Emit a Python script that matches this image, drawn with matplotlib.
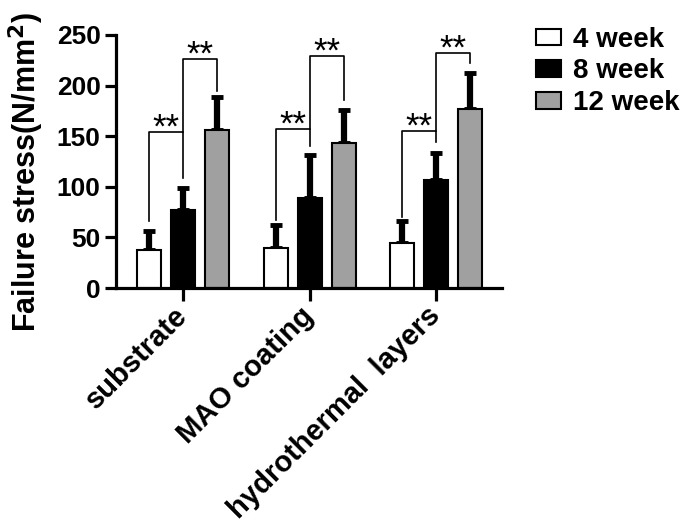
import numpy as np
import matplotlib.pyplot as plt

plt.rcParams['font.family'] = ['Liberation Sans', 'DejaVu Sans']

categories = ['substrate', 'MAO coating', 'hydrothermal  layers']
weeks = ['4 week', '8 week', '12 week']
means = [[38, 40, 44],      # 4 week
         [77, 89, 107],     # 8 week
         [156, 143, 177]]   # 12 week
errs = [[18, 22, 22],
        [22, 42, 26],
        [33, 33, 35]]
colors = ['white', 'black', '#a0a0a0']

# significance brackets: (group, left bar, right bar, left leg end, right leg end, top)
brackets = [(0, 0, 1, 66, 109, 154), (0, 1, 2, 154, 195, 226),
            (1, 0, 1, 67, 140, 157), (1, 1, 2, 157, 186, 229),
            (2, 0, 1, 70, 144, 155), (2, 1, 2, 155, 222, 232)]

fig = plt.figure(figsize=(6.85, 5.25), dpi=100)
ax = fig.add_axes([0.1693, 0.4514, 0.5635, 0.482])

x = np.arange(len(categories))
off = 0.269
w = 0.19
for i in range(3):
    ax.bar(x + (i - 1) * off, means[i], w, color=colors[i], edgecolor='black',
           linewidth=1.5, label=weeks[i], zorder=2)
    ax.errorbar(x + (i - 1) * off, means[i], yerr=[np.zeros(3), errs[i]],
                fmt='none', ecolor='black', elinewidth=4.5, capsize=4.5,
                capthick=3.5, zorder=1)

for g, a, b, yl, yr, top in brackets:
    xa = g + (a - 1) * off
    xb = g + (b - 1) * off
    ax.plot([xa, xa, xb, xb], [yl, top, top, yr], color='black', lw=1.2,
            zorder=3, clip_on=False)
    ax.annotate('**', ((xa + xb) / 2, top), xytext=(0, -4),
                textcoords='offset points', ha='center', va='baseline',
                fontsize=25, annotation_clip=False)

ax.set_xlim(-0.53, 2.52)
ax.set_ylim(0, 250)
ax.set_yticks([0, 50, 100, 150, 200, 250])
ax.set_xticks(x)
ax.set_xticklabels(categories, rotation=45, ha='right', va='center',
                   rotation_mode='anchor', fontsize=21, fontweight='bold')
for lab in ax.get_yticklabels():
    lab.set_fontsize(19)
    lab.set_fontweight('bold')

ax.spines['top'].set_visible(False)
ax.spines['right'].set_visible(False)
ax.spines['left'].set_linewidth(2.3)
ax.spines['bottom'].set_linewidth(2.3)
ax.tick_params(axis='y', length=8, width=2.3, pad=3)
ax.tick_params(axis='x', length=9, width=2.3, pad=8)

ax.set_ylabel('Failure stress(N/mm$^\\mathbf{2}$)', fontsize=22,
              fontweight='bold', labelpad=8)
ax.yaxis.label.set_y(0.46)

ax.legend(loc='upper left', bbox_to_anchor=(0.766, 0.97),
          bbox_transform=fig.transFigure, frameon=False,
          prop={'size': 20, 'weight': 'bold'}, handlelength=0.9,
          handleheight=0.55, handletextpad=0.45, labelspacing=0.2,
          borderaxespad=0)

fig.savefig('out.png', dpi=100)
